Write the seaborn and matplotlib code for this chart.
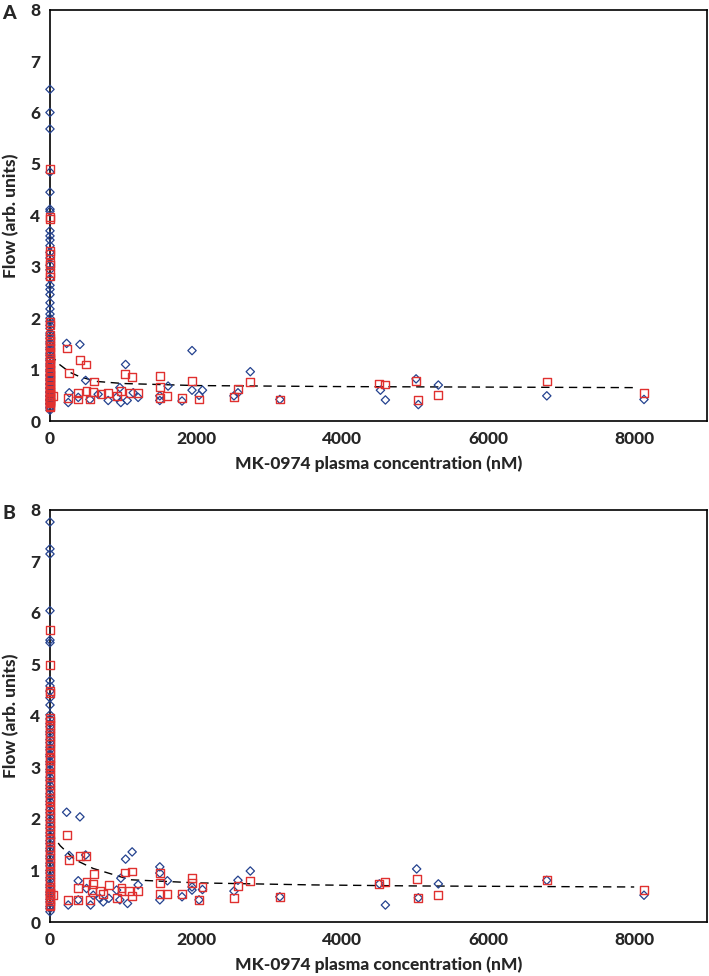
import matplotlib
matplotlib.use("Agg")
import seaborn as sns
import matplotlib.pyplot as plt

### Data ###
# Panel A - blue diamonds
a_blue_x = [0] * 60 + [228, 410, 1035, 1945, 488, 264, 250, 387, 547, 660, 797, 912, 970, 1057,
                       1139, 1207, 1504, 1504, 1617, 1808, 1945, 2041, 2088, 957,
                       2743, 2574, 2519, 3148, 4525, 4593, 5013, 5044, 5318, 6803, 8134]
a_blue_y = [6.45, 6.0, 5.68, 4.84, 4.45, 4.12, 4.08, 3.70, 3.60, 3.52, 3.41, 3.28, 3.17, 3.03,
            2.94, 2.77, 2.64, 2.56, 2.46, 2.30, 2.18, 2.08, 2.00, 1.94, 1.86, 1.80, 1.71, 1.67,
            1.61, 1.54, 1.50, 1.43, 1.39, 1.32, 1.28, 1.21, 1.18, 1.11, 1.07, 1.00, 0.97, 0.90,
            0.88, 0.82, 0.79, 0.73, 0.71, 0.65, 0.63, 0.57, 0.55, 0.49, 0.48, 0.42, 0.40, 0.34,
            0.33, 0.27, 0.25, 0.21,
            1.51, 1.49, 1.10, 1.37, 0.79, 0.55, 0.36, 0.46, 0.42, 0.52, 0.40, 0.46, 0.36, 0.40,
            0.55, 0.46, 0.49, 0.40, 0.68, 0.39, 0.60, 0.50, 0.60, 0.65,
            0.96, 0.55, 0.49, 0.42, 0.60, 0.41, 0.82, 0.32, 0.70, 0.49, 0.42]

# Panel A - red squares
a_red_x = [0] * 44 + [46, 228, 410, 488, 264, 601, 1025, 1125, 1504, 1504, 250, 387, 387, 501,
                      592, 547, 706, 797, 912, 970, 1094, 1207, 1608, 1808, 1945, 2041, 1504,
                      2743, 2574, 2519, 3148, 4511, 4593, 5013, 5044, 5318, 6803, 8134]
a_red_y = [4.90, 3.96, 3.93, 3.30, 3.25, 3.08, 3.04, 2.88, 2.81, 1.93, 1.86, 1.67, 1.61, 1.56,
           1.47, 1.43, 1.34, 1.31, 1.23, 1.19, 1.12, 1.09, 1.01, 0.99, 0.92, 0.89, 0.83, 0.81,
           0.75, 0.72, 0.66, 0.64, 0.59, 0.56, 0.52, 0.48, 0.45, 0.41, 0.37, 0.34, 0.30, 0.27,
           0.44, 0.38,
           0.49, 1.41, 1.19, 1.10, 0.94, 0.77, 0.91, 0.86, 0.87, 0.67, 0.44, 0.55, 0.42, 0.58,
           0.56, 0.42, 0.53, 0.55, 0.49, 0.58, 0.55, 0.55, 0.49, 0.44, 0.78, 0.42, 0.44,
           0.76, 0.62, 0.47, 0.42, 0.73, 0.71, 0.78, 0.41, 0.50, 0.77, 0.55]

# Panel A - fitted curve (dashed)
a_fit_x = [0, 130, 270, 410, 640, 1000, 2000, 4000, 6000, 8000]
a_fit_y = [1.30, 1.10, 0.95, 0.86, 0.77, 0.73, 0.69, 0.67, 0.66, 0.65]

# Panel B - blue diamonds
b_blue_x = [0] * 64 + [228, 410, 264, 488, 1125, 1035, 1504, 1608, 387, 970, 250, 387, 501, 556,
                       592, 683, 729, 806, 912, 957, 1062, 1207, 1504, 1808, 1945, 1945, 2041,
                       2088, 1504, 2743, 2574, 2519, 3148, 4511, 4593, 5021, 5044, 5318, 6803,
                       8134]
b_blue_y = [7.76, 7.24, 7.14, 6.04, 5.47, 5.42, 4.68, 4.58, 4.48, 4.35, 4.21, 4.02, 3.94, 3.85,
            3.79, 3.69, 3.64, 3.54, 3.48, 3.39, 3.34, 3.25, 3.21, 3.11, 3.06, 2.96, 2.91, 2.81,
            2.75, 2.65, 2.59, 2.49, 2.43, 2.34, 2.28, 2.18, 2.12, 2.03, 1.97, 1.88, 1.82, 1.73,
            1.67, 1.58, 1.52, 1.43, 1.38, 1.28, 1.23, 1.14, 1.09, 1.00, 0.95, 0.86, 0.81, 0.72,
            0.67, 0.58, 0.53, 0.44, 0.39, 0.30, 0.26, 0.20,
            2.13, 2.04, 1.29, 1.30, 1.36, 1.22, 1.07, 0.80, 0.80, 0.85, 0.33, 0.43, 0.65, 0.33,
            0.52, 0.46, 0.39, 0.46, 0.62, 0.43, 0.36, 0.72, 0.43, 0.49, 0.68, 0.62, 0.43,
            0.63, 0.95, 0.99, 0.81, 0.60, 0.49, 0.74, 0.33, 1.03, 0.47, 0.74, 0.81, 0.52]

# Panel B - red squares
b_red_x = [0] * 55 + [46, 228, 264, 410, 488, 606, 387, 501, 592, 570, 683, 806, 729, 912, 980,
                      980, 1025, 1125, 1080, 1125, 1207, 1504, 1504, 1504, 1608, 1808, 1945,
                      1945, 2088, 2041, 250, 387, 547, 2743, 2574, 2519, 3148, 4511, 4593,
                      5021, 5044, 5318, 6803, 8134]
b_red_y = [5.66, 4.99, 4.49, 4.45, 3.96, 3.91, 3.82, 3.77, 3.67, 3.61, 3.51, 3.45, 3.35, 3.29,
           3.19, 3.14, 3.04, 2.98, 2.88, 2.82, 2.72, 2.66, 2.56, 2.50, 2.40, 2.34, 2.24, 2.18,
           2.08, 2.02, 1.92, 1.86, 1.78, 1.71, 1.61, 1.56, 1.46, 1.40, 1.30, 1.24, 1.14, 1.08,
           0.98, 0.93, 0.83, 0.78, 0.69, 0.64, 0.56, 0.52, 0.44, 0.40, 0.33, 0.30, 0.57,
           0.52, 1.69, 1.20, 1.28, 1.28, 0.93, 0.66, 0.77, 0.74, 0.62, 0.60, 0.72, 0.55, 0.46,
           0.66, 0.60, 0.96, 0.98, 0.60, 0.50, 0.60, 0.95, 0.75, 0.55, 0.55, 0.55, 0.85,
           0.75, 0.68, 0.42, 0.43, 0.43, 0.43, 0.79, 0.70, 0.46, 0.49, 0.74, 0.77,
           0.83, 0.47, 0.52, 0.81, 0.62]

# Panel B - fitted curve (dashed)
b_fit_x = [0, 140, 340, 590, 1100, 2000, 3600, 5000, 8000]
b_fit_y = [1.75, 1.48, 1.21, 1.04, 0.82, 0.76, 0.72, 0.70, 0.68]

x_ticks = [0, 2000, 4000, 6000, 8000]
y_ticks = [0, 1, 2, 3, 4, 5, 6, 7, 8]

### Style ###
sns.set_style("white")
plt.rcParams['font.family'] = ['Lato', 'DejaVu Sans']
plt.rcParams['xtick.direction'] = 'in'
plt.rcParams['ytick.direction'] = 'in'

blue = '#24428f'
red = '#e0302f'
heavy = 'black'

fig = plt.figure(figsize=(7.09, 9.76), dpi=100)
ax_a = fig.add_axes([0.0705, 0.5686, 0.927, 0.4215])
ax_b = fig.add_axes([0.0705, 0.0553, 0.927, 0.4225])

panels = [
    (ax_a, a_blue_x, a_blue_y, a_red_x, a_red_y, a_fit_x, a_fit_y, 'A'),
    (ax_b, b_blue_x, b_blue_y, b_red_x, b_red_y, b_fit_x, b_fit_y, 'B'),
]

for ax, bx, by, rx, ry, fx, fy, letter in panels:
    sns.lineplot(x=fx, y=fy, ax=ax, color='black', linestyle=(0, (6, 4)), linewidth=1.0,
                 sort=False, zorder=2)
    sns.scatterplot(x=bx, y=by, ax=ax, marker='D', s=18, facecolors='none',
                    edgecolor=blue, linewidth=0.9, clip_on=False, zorder=3)
    sns.scatterplot(x=rx, y=ry, ax=ax, marker='s', s=32, facecolors='none',
                    edgecolor=red, linewidth=1.0, clip_on=False, zorder=4)
    ax.set_xlim(0, 9000)
    ax.set_ylim(0, 8)
    ax.set_xticks(x_ticks)
    ax.set_yticks(y_ticks)
    ax.tick_params(axis='both', length=4, width=0.8, color='0.35', labelsize=12.5, pad=7)
    for lab in ax.get_xticklabels() + ax.get_yticklabels():
        lab.set_fontweight(heavy)
    for sp in ax.spines.values():
        sp.set_color('black')
        sp.set_linewidth(1.2)
    ax.set_xlabel("MK-0974 plasma concentration (nM)", fontsize=12.5, fontweight=heavy, labelpad=6)
    ax.set_ylabel("Flow (arb. units)", fontsize=12.5, fontweight=heavy, labelpad=8)
    pos = ax.get_position()
    fig.text(0.003, pos.y1 - 0.004, letter, fontsize=14, fontweight=heavy, va='center', ha='left')

plt.savefig("out.png", dpi=100)
